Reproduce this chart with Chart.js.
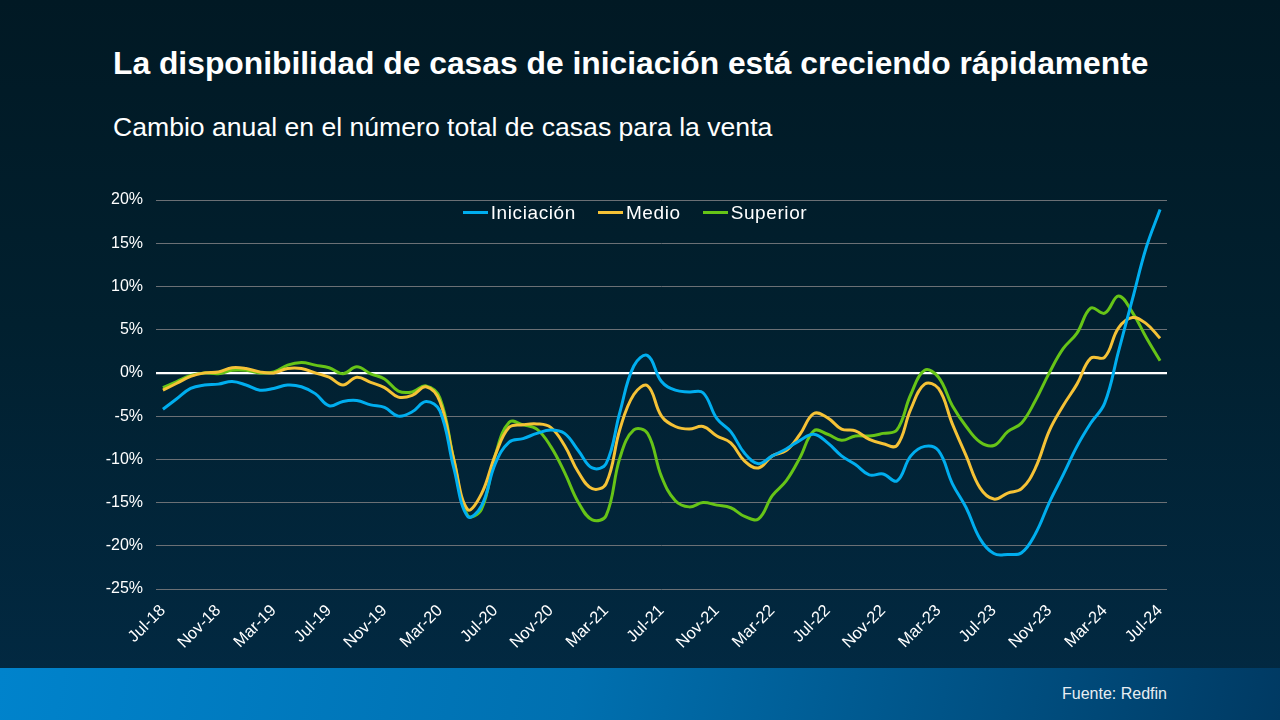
<!DOCTYPE html>
<html lang="es">
<head>
<meta charset="utf-8">
<script src="https://cdn.jsdelivr.net/npm/chart.js@4.4.1/dist/chart.umd.min.js"></script>
<style>
  html, body { margin: 0; padding: 0; }
  body {
    width: 1280px; height: 720px; overflow: hidden; position: relative;
    background: linear-gradient(180deg, #011924 0%, #01202f 45%, #022a44 100%);
    font-family: "Liberation Sans", Arial, sans-serif; color: #fff;
  }
  #title { position: absolute; left: 113px; top: 45px; font-size: 31.8px; font-weight: bold; white-space: nowrap; }
  #subtitle { position: absolute; left: 113px; top: 112px; font-size: 26.6px; white-space: nowrap; }
  #band {
    position: absolute; left: 0; top: 668px; width: 1280px; height: 52px;
    background: linear-gradient(100deg, #0083cc 0%, #0070b0 45%, #003a63 100%);
  }
  #source { position: absolute; right: 113px; top: 685px; font-size: 16px; color: #e8eef2; }
  #legend { position: absolute; left: 0; width: 1270px; top: 202px; text-align: center; font-size: 19px; letter-spacing: 0.6px; }
  .item { display: inline-block; margin: 0 11px; }
  .swatch { display: inline-block; width: 25px; height: 3px; vertical-align: middle; margin-right: 3px; position: relative; top: -1px; }
  #wrap { position: absolute; left: 0; top: 0; width: 1280px; height: 720px; }
</style>
</head>
<body>
<div id="title">La disponibilidad de casas de iniciación está creciendo rápidamente</div>
<div id="subtitle">Cambio anual en el número total de casas para la venta</div>
<div id="band"></div>
<div id="source">Fuente: Redfin</div>
<div id="wrap"><canvas id="canvas"></canvas></div>
<div id="legend"></div>
<script>
const ctx = document.getElementById('canvas');

const months = [
  'Jul-18', 'Aug-18', 'Sep-18', 'Oct-18', 'Nov-18', 'Dec-18', 'Jan-19', 'Feb-19', 'Mar-19', 'Apr-19', 'May-19', 'Jun-19',
  'Jul-19', 'Aug-19', 'Sep-19', 'Oct-19', 'Nov-19', 'Dec-19', 'Jan-20', 'Feb-20', 'Mar-20', 'Apr-20', 'May-20', 'Jun-20',
  'Jul-20', 'Aug-20', 'Sep-20', 'Oct-20', 'Nov-20', 'Dec-20', 'Jan-21', 'Feb-21', 'Mar-21', 'Apr-21', 'May-21', 'Jun-21',
  'Jul-21', 'Aug-21', 'Sep-21', 'Oct-21', 'Nov-21', 'Dec-21', 'Jan-22', 'Feb-22', 'Mar-22', 'Apr-22', 'May-22', 'Jun-22',
  'Jul-22', 'Aug-22', 'Sep-22', 'Oct-22', 'Nov-22', 'Dec-22', 'Jan-23', 'Feb-23', 'Mar-23', 'Apr-23', 'May-23', 'Jun-23',
  'Jul-23', 'Aug-23', 'Sep-23', 'Oct-23', 'Nov-23', 'Dec-23', 'Jan-24', 'Feb-24', 'Mar-24', 'Apr-24', 'May-24', 'Jun-24',
  'Jul-24'
];

const iniciacion = [
  -4.2, -3.0, -1.8, -1.4, -1.3, -1.0, -1.4, -2.0, -1.8, -1.4, -1.6, -2.4,
  -3.8, -3.3, -3.2, -3.7, -4.0, -5.0, -4.5, -3.3, -4.4, -11.0, -16.6, -15.4,
  -10.5, -8.0, -7.6, -7.0, -6.6, -7.0, -9.0, -11.0, -10.5, -4.5, 0.8, 2.0,
  -1.0, -2.0, -2.2, -2.3, -5.3, -6.8, -9.3, -10.5, -9.6, -8.8, -7.8, -7.1,
  -8.1, -9.6, -10.6, -11.8, -11.7, -12.5, -9.6, -8.5, -9.0, -12.8, -15.6, -19.2,
  -20.9, -21.0, -20.8, -18.6, -15.0, -11.8, -8.5, -5.8, -3.5, 2.5, 8.5, 14.5,
  18.9
];

const medio = [
  -2.0, -1.2, -0.4, 0.0, 0.1, 0.6, 0.5, 0.1, 0.0, 0.5, 0.5, 0.0,
  -0.5, -1.4, -0.5, -1.1, -1.7, -2.8, -2.6, -1.6, -3.3, -10.0, -15.8, -14.0,
  -9.5, -6.3, -6.0, -5.9, -6.3, -8.4, -11.5, -13.4, -12.8, -6.5, -2.5, -1.5,
  -5.0, -6.2, -6.5, -6.2, -7.3, -8.1, -10.2, -11.0, -9.6, -9.0, -7.1, -4.7,
  -5.2, -6.5, -6.7, -7.7, -8.2, -8.4, -4.2, -1.3, -1.8, -5.9, -9.6, -13.3,
  -14.6, -13.9, -13.4, -11.0, -6.7, -3.8, -1.3, 1.7, 1.8, 5.2, 6.4, 5.7,
  4.0
];

const superior = [
  -1.7, -1.0, -0.3, 0.0, -0.1, 0.3, 0.3, 0.0, 0.1, 0.9, 1.2, 0.9,
  0.6, -0.1, 0.7, -0.1, -0.7, -2.1, -2.2, -1.5, -2.9, -10.0, -16.5, -15.8,
  -9.5, -5.7, -6.0, -6.5, -8.5, -11.5, -15.0, -17.0, -16.5, -9.8, -6.6, -7.0,
  -12.0, -14.8, -15.5, -15.0, -15.3, -15.6, -16.6, -16.9, -14.2, -12.5, -9.8, -6.7,
  -7.1, -7.8, -7.3, -7.3, -7.0, -6.6, -2.5, 0.3, -0.5, -3.8, -6.2, -8.0,
  -8.4, -6.8, -5.8, -3.2, 0.0, 2.8, 4.6, 7.5, 6.9, 8.9, 7.0, 4.1,
  1.4
];

const seriesNames = ['Iniciación', 'Medio', 'Superior'];
const seriesColors = ['#00aeef', '#f5c236', '#66c417'];
const yTicks = [20, 15, 10, 5, 0, -5, -10, -15, -20, -25];

// legend drawn in html, on top of the plot area like the original
const legend = document.getElementById('legend');
seriesNames.forEach(function(name, i) {
  const item = document.createElement('span');
  item.className = 'item';
  item.innerHTML = '<span class="swatch" style="background:' + seriesColors[i] + '"></span>' + name;
  legend.appendChild(item);
});

const data = {
  labels: months,
  datasets: [iniciacion, medio, superior].map(function(values, i) {
    return {
      label: seriesNames[i],
      data: values,
      borderColor: seriesColors[i],
      backgroundColor: seriesColors[i],
      borderWidth: 3,
      pointRadius: 0,
      tension: 0.4,
      fill: false
    };
  })
};

const config = {
  type: 'line',
  data: data,
  options: {
    responsive: false,
    animation: false,
    devicePixelRatio: 1,
    layout: {
      padding: { left: 96, right: 113, top: 200, bottom: 0 }
    },
    plugins: {
      legend: { display: false },
      tooltip: { enabled: false }
    },
    scales: {
      x: {
        offset: true,
        grid: { display: false, offset: false },
        border: { display: false },
        afterFit: function(scale) { scale.height = 131; },
        ticks: {
          autoSkip: false,
          maxRotation: 45,
          minRotation: 45,
          padding: 4,
          color: '#ffffff',
          font: { family: '"Liberation Sans", Arial, sans-serif', size: 16.5 },
          callback: function(val, index) {
            return index % 4 === 0 ? months[index] : '';
          }
        }
      },
      y: {
        min: -25,
        max: 20,
        afterFit: function(scale) { scale.width = 60; },
        afterBuildTicks: function(scale) {
          scale.ticks = yTicks.map(function(v) { return { value: v }; });
        },
        border: { display: false },
        grid: {
          drawTicks: false,
          color: function(c) { return c.tick && c.tick.value === 0 ? '#ffffff' : '#6b7075'; },
          lineWidth: function(c) { return c.tick && c.tick.value === 0 ? 2.2 : 1; }
        },
        ticks: {
          padding: 13,
          color: '#ffffff',
          font: { family: '"Liberation Sans", Arial, sans-serif', size: 16 },
          callback: function(val) { return val + '%'; }
        }
      }
    }
  }
};

ctx.width = 1280;
ctx.height = 720;
new Chart(ctx, config);
</script>
</body>
</html>
